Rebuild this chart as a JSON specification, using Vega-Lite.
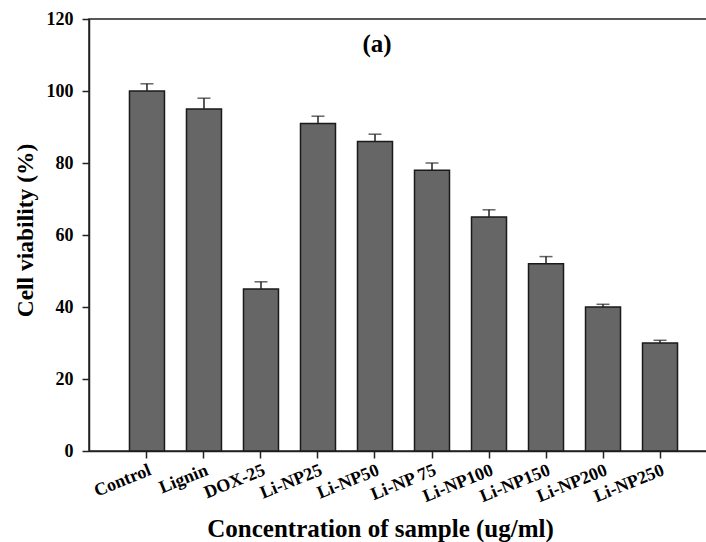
{
  "$schema": "https://vega.github.io/schema/vega-lite/v6.json",
  "autosize": "none",
  "width": 629,
  "height": 432,
  "padding": {"left": 89, "top": 19, "right": 0, "bottom": 91},
  "background": "white",
  "config": {
    "view": {"stroke": "#222", "strokeWidth": 1.5},
    "font": "Liberation Serif"
  },
  "data": {
    "values": [
      {"sample": "Control", "viability": 100, "err": 2},
      {"sample": "Lignin", "viability": 95, "err": 3},
      {"sample": "DOX-25", "viability": 45, "err": 2},
      {"sample": "Li-NP25", "viability": 91, "err": 2},
      {"sample": "Li-NP50", "viability": 86, "err": 2},
      {"sample": "Li-NP 75", "viability": 78, "err": 2},
      {"sample": "Li-NP100", "viability": 65, "err": 2},
      {"sample": "Li-NP150", "viability": 52, "err": 2},
      {"sample": "Li-NP200", "viability": 40, "err": 0.75},
      {"sample": "Li-NP250", "viability": 30, "err": 0.75}
    ]
  },
  "encoding": {
    "x": {
      "field": "sample",
      "type": "nominal",
      "sort": null,
      "scale": {"paddingInner": 0.386, "paddingOuter": 0.71},
      "axis": {
        "title": "Concentration of sample (ug/ml)",
        "titleFont": "Liberation Serif",
        "titleFontWeight": "bold",
        "titleFontSize": 25,
        "titleColor": "black",
        "titleBaseline": "alphabetic",
        "titleX": 291,
        "titleY": 85,
        "labelFont": "Liberation Serif",
        "labelFontWeight": "bold",
        "labelFontSize": 18,
        "labelColor": "black",
        "labelAngle": -22,
        "labelAlign": "right",
        "labelBaseline": "top",
        "labelPadding": 3,
        "labelOverlap": false,
        "labelBound": false,
        "tickSize": 7,
        "tickColor": "#222",
        "tickWidth": 1.5,
        "domainColor": "#222",
        "domainWidth": 1.5
      }
    }
  },
  "layer": [
    {
      "mark": {"type": "bar", "fill": "#666666", "stroke": "#1a1a1a", "strokeWidth": 1.5},
      "encoding": {
        "y": {
          "field": "viability",
          "type": "quantitative",
          "scale": {"domain": [0, 120], "nice": false},
          "axis": {
            "title": "Cell viability (%)",
            "titleFont": "Liberation Serif",
            "titleFontWeight": "bold",
            "titleFontSize": 23.5,
            "titleColor": "black",
            "titleBaseline": "alphabetic",
            "titleAngle": -90,
            "titleX": -57,
            "titleY": 211,
            "values": [0, 20, 40, 60, 80, 100, 120],
            "grid": false,
            "labelFont": "Liberation Serif",
            "labelFontWeight": "bold",
            "labelFontSize": 18,
            "labelColor": "black",
            "labelPadding": 9,
            "tickSize": 7,
            "tickColor": "#222",
            "tickWidth": 1.5,
            "domainColor": "#222",
            "domainWidth": 1.5
          }
        }
      }
    },
    {
      "transform": [{"calculate": "datum.viability + datum.err", "as": "upper"}],
      "mark": {"type": "rule", "color": "#222", "strokeWidth": 1.5},
      "encoding": {
        "y": {"field": "viability", "type": "quantitative"},
        "y2": {"field": "upper"}
      }
    },
    {
      "transform": [{"calculate": "datum.viability + datum.err", "as": "upper"}],
      "mark": {"type": "tick", "color": "#222", "size": 13, "thickness": 1.5, "orient": "horizontal"},
      "encoding": {
        "y": {"field": "upper", "type": "quantitative"}
      }
    },
    {
      "data": {"values": [{"label": "(a)"}]},
      "mark": {"type": "text", "font": "Liberation Serif", "fontWeight": "bold", "fontSize": 25, "color": "black", "baseline": "middle", "dx": 2},
      "encoding": {
        "x": {"datum": "Li-NP50"},
        "y": {"datum": 113},
        "text": {"field": "label"}
      }
    }
  ]
}
